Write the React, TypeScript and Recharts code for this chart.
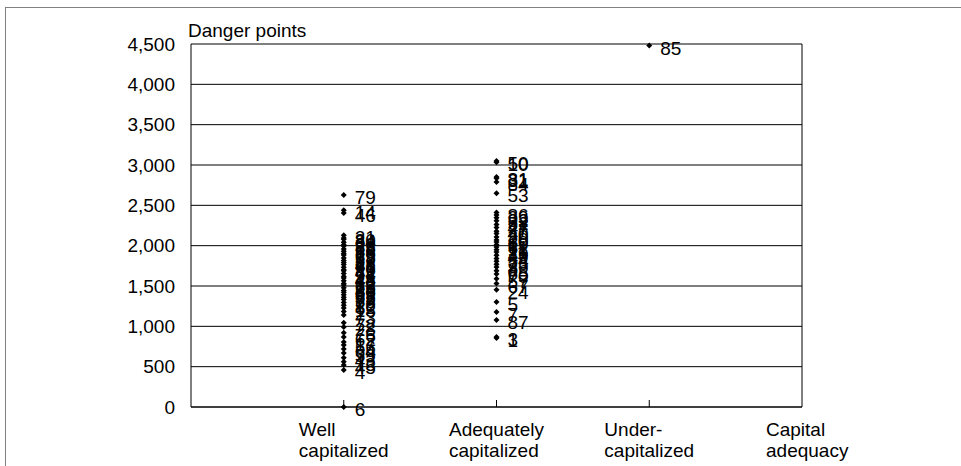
import React from 'react';
import {
  ScatterChart,
  Scatter,
  XAxis,
  YAxis,
  CartesianGrid,
  ReferenceLine,
  Label,
} from 'recharts';

// category positions on the x axis (1..3), 0 and 4 are the frame edges
const categoryLines: string[][] = [
  ['Well', 'capitalized'],
  ['Adequately', 'capitalized'],
  ['Under-', 'capitalized'],
];
const axisTitleLines = ['Capital', 'adequacy'];
const yTitle = 'Danger points';
const yTicks = [0, 500, 1000, 1500, 2000, 2500, 3000, 3500, 4000, 4500];

// Well capitalized banks
const wellIds = [
  79, 14, 46, 21, 80, 34, 22, 83, 29, 35, 16, 25, 63, 37, 18, 41, 68, 26, 42, 74,
  9, 44, 48, 12, 66, 23, 38, 51, 69, 55, 77, 58, 78, 82, 15, 2, 73, 72, 28, 76,
  62, 17, 56, 64, 59, 43, 13, 45, 4, 6,
];
const wellValues = [
  2627, 2440, 2404, 2128, 2095, 2081, 2043, 2012, 1996, 1958, 1931, 1902, 1884, 1847, 1815, 1790, 1768, 1731, 1702, 1689,
  1654, 1617, 1598, 1566, 1530, 1512, 1478, 1445, 1421, 1392, 1360, 1334, 1297, 1262, 1228, 1185, 1140, 1045, 992, 921,
  868, 806, 770, 719, 668, 612, 561, 522, 458, 0,
];

// Adequately capitalized banks
const adequateIds = [
  50, 10, 81, 31, 84, 53, 86, 33, 32, 52, 47, 27, 40, 30, 20, 60, 19, 61, 71, 11,
  39, 49, 54, 75, 36, 8, 65, 70, 57, 67, 24, 5, 7, 87, 3, 1,
];
const adequateValues = [
  3050, 3035, 2850, 2835, 2790, 2650, 2410, 2380, 2345, 2310, 2262, 2225, 2180, 2150, 2108, 2070, 2046, 2012, 1985, 1950,
  1921, 1880, 1842, 1806, 1771, 1735, 1690, 1648, 1590, 1530, 1455, 1301, 1177, 1078, 867, 855,
];

// Under-capitalized banks
const underIds = [85];
const underValues = [4480];

const FONT = "'Liberation Sans', Arial, sans-serif";
const FONT_SIZE = 19;

const toPoints = (pos: number, ids: number[], values: number[]) =>
  ids.map((id, i) => ({ x: pos, y: values[i], id }));

const data = [
  ...toPoints(1, wellIds, wellValues),
  ...toPoints(2, adequateIds, adequateValues),
  ...toPoints(3, underIds, underValues),
];

let ctx: CanvasRenderingContext2D | null = null;
function textWidth(s: string) {
  if (!ctx) {
    ctx = document.createElement('canvas').getContext('2d');
    if (ctx) ctx.font = `${FONT_SIZE}px ${FONT}`;
  }
  return ctx ? ctx.measureText(s).width : s.length * FONT_SIZE * 0.5;
}

function MultiLine({ x, y, lines }: { x: number; y: number; lines: string[] }) {
  return (
    <text x={x} y={y} fontSize={FONT_SIZE} fill="#000" textAnchor="start" fontFamily={FONT}>
      {lines.map((l, i) => (
        <tspan key={i} x={x} y={y + 29 + i * 21}>
          {l}
        </tspan>
      ))}
    </text>
  );
}

function XTick(props: any) {
  const { x, y, payload } = props;
  const v = payload.value;
  if (v === 4) return <MultiLine x={x - 36} y={y} lines={axisTitleLines} />;
  const lines = categoryLines[v - 1];
  if (!lines) return null;
  const w = Math.max(...lines.map(textWidth));
  return (
    <g>
      <line x1={x} y1={y} x2={x} y2={y - 7} stroke="#000" />
      <MultiLine x={x - w / 2} y={y} lines={lines} />
    </g>
  );
}

function PointShape(props: any) {
  const { cx, cy, payload } = props;
  const r = 3;
  return (
    <g>
      <polygon
        points={`${cx},${cy - r} ${cx + r},${cy} ${cx},${cy + r} ${cx - r},${cy}`}
        fill="#000"
      />
      <text x={cx + 11} y={cy + 9} fontSize={FONT_SIZE} fill="#000" fontFamily={FONT}>
        {payload.id}
      </text>
    </g>
  );
}

export default function App() {
  return (
    <div style={{ position: 'absolute', left: 0, top: 0, width: 961, height: 466, background: '#fff' }}>
      <div
        style={{
          position: 'absolute',
          left: 5,
          top: 7,
          width: 960,
          height: 470,
          borderLeft: '1px solid #808080',
          borderTop: '1px solid #808080',
          borderRight: '1px solid #808080',
        }}
      />
      <ScatterChart
        width={961}
        height={466}
        margin={{ top: 44, right: 159, bottom: 0, left: 0 }}
        style={{ fontFamily: FONT, position: 'absolute', left: 0, top: 0 }}
      >
        <CartesianGrid horizontal vertical={false} stroke="#000" />
        <XAxis
          type="number"
          dataKey="x"
          domain={[0, 4]}
          ticks={[0, 1, 2, 3, 4]}
          interval={0}
          height={59}
          tickLine={false}
          tickSize={0}
          tickMargin={0}
          axisLine={{ stroke: '#000' }}
          tick={<XTick />}
        />
        <YAxis
          type="number"
          dataKey="y"
          domain={[0, 4500]}
          ticks={yTicks}
          interval={0}
          width={191}
          tickLine={false}
          tickSize={0}
          tickMargin={16}
          axisLine={{ stroke: '#000' }}
          tick={{ fill: '#000', fontSize: FONT_SIZE, fontFamily: FONT }}
          tickFormatter={(v: number) => v.toLocaleString('en-US')}
        >
          <Label
            content={(p: any) => {
              const vb = p.viewBox || { x: 0, y: 44, width: 191 };
              return (
                <text x={vb.x + vb.width - 3} y={vb.y - 7} fontSize={FONT_SIZE} fill="#000" fontFamily={FONT}>
                  {yTitle}
                </text>
              );
            }}
          />
        </YAxis>
        <ReferenceLine x={4} stroke="#000" />
        <Scatter data={data} shape={<PointShape />} isAnimationActive={false} />
      </ScatterChart>
    </div>
  );
}
